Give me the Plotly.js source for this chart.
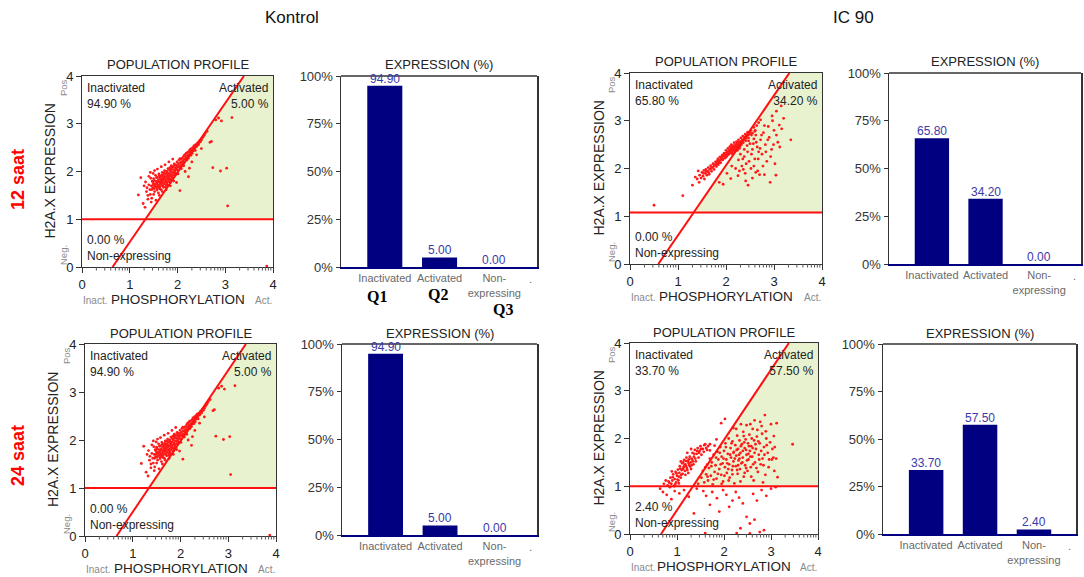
<!DOCTYPE html>
<html>
<head>
<meta charset="utf-8">
<script src="https://cdn.plot.ly/plotly-3.0.1.min.js"></script>
<style>
  html, body { margin: 0; padding: 0; background: #ffffff; }
  #chart { width: 1084px; height: 577px; }
</style>
</head>
<body>
<div id="chart"></div>
<script>
// ---- Expression percentages per gate (Inactivated, Activated, Non-expressing) ----
const categories = ['Inactivated', 'Activated', 'Non-expressing'];
const categoryTicks = ['Inactivated', 'Activated', 'Non-<br>expressing'];
const kontrol12 = [94.90, 5.00, 0.00];
const ic90_12 = [65.80, 34.20, 0.00];
const kontrol24 = [94.90, 5.00, 0.00];
const ic90_24 = [33.70, 57.50, 2.40];
const percentTicks = [0, 25, 50, 75, 100];
const percentLabels = ['0%', '25%', '50%', '75%', '100%'];

// ---- Column / row headings ----
const columnTitles = ['Kontrol', 'IC 90'];
const rowTitles = ['12 saat', '24 saat'];
const quadrantTags = ['Q1', 'Q2', 'Q3'];

// ---- Gate geometry: horizontal threshold and diagonal (x at y=0, x at y=4) ----
const gateK12 = { h: 1.00, x0: 0.64, x1: 3.39 };
const gateI12 = { h: 1.08, x0: 0.59, x1: 3.32 };
const gateK24 = { h: 1.00, x0: 0.66, x1: 3.37 };
const gateI24 = { h: 1.00, x0: 0.66, x1: 3.38 };

// ---- Events (phosphorylation, H2A.X expression) ----
const kontrolEvents = [
  [1.42,1.62],[1.45,1.70],[1.47,1.80],[1.48,1.66],[1.50,1.75],[1.50,1.85],[1.52,1.58],[1.53,1.72],
  [1.54,1.92],[1.55,1.80],[1.56,1.68],[1.57,1.76],[1.58,1.88],[1.58,1.64],[1.60,1.82],[1.60,1.72],
  [1.61,1.95],[1.62,1.78],[1.63,1.86],[1.63,1.68],[1.64,1.74],[1.65,1.90],[1.66,1.80],[1.66,1.62],
  [1.67,1.84],[1.68,1.76],[1.68,1.98],[1.69,1.70],[1.70,1.88],[1.70,1.80],[1.71,1.92],[1.72,1.74],
  [1.73,1.84],[1.73,2.02],[1.74,1.78],[1.75,1.95],[1.75,1.68],[1.76,1.88],[1.77,1.82],[1.78,2.00],
  [1.78,1.75],[1.79,1.92],[1.80,1.86],[1.80,2.06],[1.81,1.79],[1.82,1.96],[1.83,1.90],[1.84,2.08],
  [1.84,1.84],[1.85,2.00],[1.86,1.94],[1.87,2.12],[1.88,1.88],[1.88,2.04],[1.89,1.98],[1.90,2.10],
  [1.91,1.92],[1.92,2.04],[1.93,2.16],[1.94,2.00],[1.95,2.08],[1.96,1.96],[1.97,2.14],[1.98,2.06],
  [1.99,2.20],[2.00,2.10],[2.01,2.02],[2.02,2.16],[2.03,2.24],[2.04,2.08],[2.05,2.18],[2.06,2.12],
  [2.07,2.26],[2.08,2.20],[2.09,2.14],[2.10,2.28],[2.11,2.22],[2.12,2.16],[2.13,2.32],[2.14,2.26],
  [2.15,2.20],[2.16,2.34],[2.17,2.28],[2.18,2.38],[2.19,2.30],[2.20,2.24],[2.21,2.40],[2.22,2.34],
  [2.23,2.28],[2.24,2.42],[2.25,2.36],[2.26,2.46],[2.27,2.40],[2.28,2.34],[2.29,2.48],[2.30,2.42],
  [2.32,2.50],[2.33,2.44],[2.35,2.54],[2.36,2.48],[2.38,2.56],[2.40,2.52],[2.42,2.60],[2.44,2.56],
  [2.46,2.64],[2.48,2.62],[2.52,2.70],[2.56,2.76],
  [1.46,1.62],[1.49,1.71],[1.51,1.81],[1.53,1.67],[1.56,1.87],[1.57,1.61],[1.59,1.79],[1.61,1.69],
  [1.62,1.91],[1.64,1.63],[1.65,1.77],[1.67,1.71],[1.67,1.93],[1.69,1.83],[1.71,1.67],[1.72,1.97],
  [1.74,1.89],[1.76,1.79],[1.77,1.99],[1.79,1.71],[1.80,1.95],[1.82,1.83],[1.83,2.03],[1.85,1.77],
  [1.86,2.07],[1.87,1.91],[1.89,2.09],[1.90,1.85],[1.92,1.97],[1.94,2.13],[1.95,1.93],[1.97,2.03],
  [1.99,2.12],[2.01,1.95],[2.03,2.10],[2.05,2.27],[2.08,2.06],[2.10,2.19],[2.13,2.12],[2.15,2.35],
  [2.18,2.24],[2.21,2.31],[2.24,2.33],[2.28,2.44],[2.31,2.38],[2.34,2.52],[2.37,2.44],[2.41,2.55],
  [2.45,2.60],[2.50,2.66],[2.54,2.73],[2.58,2.80],[2.62,2.84],
  [1.40,1.90],[1.43,1.98],[1.52,2.02],[1.58,2.05],[1.66,2.10],[1.74,2.14],[1.82,2.20],[1.90,2.26],
  [1.38,1.42],[1.45,1.36],[1.60,1.55],[1.68,1.58],[1.76,1.62],[1.33,1.78],[1.50,1.52],[1.85,1.70],
  [1.92,1.80],
  [1.35,1.58],[1.38,1.50],[1.40,1.72],[1.43,1.52],[1.44,1.86],[1.46,1.44],[1.36,1.66],[1.49,1.96],
  [1.30,1.70],[1.51,1.64],[1.59,1.70],[1.65,1.84],[1.69,1.90],[1.72,1.86],[1.76,1.72],[1.81,1.88],
  [1.86,1.82],[1.62,1.66],[1.55,1.74],[1.48,1.78],
  [1.23,1.87],[1.18,1.51],[1.28,1.33],[1.32,1.25],[1.55,1.40],[1.62,1.50],
  [2.16,2.00],[2.25,2.07],[2.23,1.89],[1.98,1.77],[2.05,1.60],[2.30,2.20],[2.40,2.35],[2.50,2.48],
  [2.68,2.61],[2.71,2.63],[2.74,2.08],[2.90,2.01],[3.03,2.07],[3.05,1.28],[3.14,3.13],[2.80,3.08],
  [2.86,3.12],[2.92,3.06],[3.87,0.02]
];

const ic90Events12 = [
  [1.45,1.86],[1.48,1.80],[1.50,1.92],[1.52,1.84],[1.54,1.96],[1.55,1.78],[1.57,1.90],[1.58,1.98],
  [1.60,1.86],[1.62,1.94],[1.63,2.02],[1.65,1.88],[1.66,1.98],[1.68,2.06],[1.70,1.94],[1.71,2.02],
  [1.73,2.10],[1.75,1.98],[1.76,2.08],[1.78,2.14],[1.80,2.04],[1.81,2.12],[1.83,2.20],[1.84,2.08],
  [1.86,2.16],[1.87,2.24],[1.89,2.12],[1.90,2.20],[1.92,2.28],[1.93,2.18],[1.95,2.26],[1.96,2.32],
  [1.98,2.22],[1.99,2.30],[2.00,2.38],[2.02,2.26],[2.03,2.34],[2.04,2.42],[2.06,2.30],[2.07,2.38],
  [2.08,2.46],[2.09,2.34],[2.10,2.42],[2.11,2.50],[2.12,2.36],[2.13,2.44],[2.14,2.30],[2.15,2.48],
  [2.16,2.40],[2.17,2.54],[2.18,2.44],[2.19,2.36],[2.20,2.50],[2.21,2.42],[2.22,2.56],[2.23,2.46],
  [2.24,2.38],[2.25,2.52],[2.26,2.60],[2.27,2.48],[2.28,2.42],[2.30,2.56],[2.31,2.64],[2.32,2.50],
  [2.34,2.60],[2.35,2.68],[2.36,2.54],[2.38,2.64],[2.40,2.72],[2.41,2.58],[2.43,2.68],[2.45,2.76],
  [2.47,2.64],[2.49,2.72],[2.52,2.80],[2.55,2.74],[2.58,2.86],[2.61,2.80],[2.64,2.90],[2.68,2.96],
  [2.72,3.02],[2.05,2.34],[2.11,2.40],[2.16,2.46],[2.21,2.48],[2.14,2.38],[2.19,2.44],[2.24,2.50],
  [1.88,2.18],[1.91,2.24],[1.94,2.20],[1.97,2.28],[2.00,2.24],[2.01,2.33],[2.04,2.29],[2.06,2.37],
  [2.08,2.32],[2.10,2.39],[2.12,2.45],[2.13,2.33],[2.15,2.41],[2.17,2.47],[2.18,2.37],[2.20,2.45],
  [2.22,2.40],[2.23,2.52],[2.25,2.44],[2.27,2.55],[2.29,2.46],[2.31,2.52],[2.33,2.58],[2.37,2.60],
  [2.39,2.66],[2.42,2.63],[2.46,2.70],[2.50,2.76],[2.53,2.70],[1.53,1.90],[1.59,1.94],[1.64,1.91],
  [1.69,2.00],[1.74,2.04],[1.79,2.08],[1.82,2.16],[1.85,2.12],
  [1.30,1.65],[1.10,1.43],[0.50,1.23],[1.44,1.71],[1.40,1.78],[1.42,1.95],[1.36,1.82],
  [2.10,1.79],[1.94,1.67],[1.86,1.71],[2.02,1.90],[2.12,2.05],[2.20,2.00],[2.26,2.18],[2.30,2.30],
  [2.35,2.20],[2.38,2.40],[2.42,2.10],[2.45,2.35],[2.46,1.65],[2.41,1.74],[2.50,2.52],[2.52,2.00],
  [2.55,2.40],[2.58,2.62],[2.60,2.20],[2.62,2.70],[2.65,2.45],[2.66,1.95],[2.70,1.87],[2.72,2.60],
  [2.75,2.30],[2.78,2.75],[2.80,1.87],[2.82,2.50],[2.85,2.15],[2.88,2.88],[2.90,2.65],[2.92,1.71],
  [2.95,2.40],[2.97,3.00],[3.00,2.80],[3.02,2.10],[3.04,1.86],[3.08,2.55],[3.11,2.91],[3.15,3.31],
  [3.16,2.83],[3.20,3.05],[3.35,2.60],[2.33,2.05],[2.57,2.52],[2.68,2.35],[2.44,2.48],[2.36,1.98],
  [2.62,1.92],[2.25,1.85],[2.38,2.25],[2.48,2.15],[2.53,2.30],[2.58,2.05],[2.63,2.55],[2.67,2.20],
  [2.71,2.42],[2.74,2.70],[2.77,2.05],[2.83,2.35],[2.87,2.60],[2.93,2.25],[2.99,2.50],[3.05,2.70],
  [3.12,2.45],[2.40,1.90],[2.55,1.80],[2.28,1.95],[2.47,2.58],[2.60,2.78],[2.80,2.90],[2.96,3.10],
  [3.05,3.20]
];

const ic90Events24 = [
  [0.80,1.02],[0.82,1.10],[0.85,0.98],[0.86,1.18],[0.88,1.05],[0.90,1.12],[0.92,1.25],[0.94,1.00],
  [0.95,1.15],[0.97,1.30],[0.98,1.08],[1.00,1.22],[1.02,1.35],[1.03,1.12],[1.05,1.28],[1.06,1.42],
  [1.08,1.18],[1.10,1.34],[1.11,1.48],[1.12,1.26],[1.14,1.40],[1.15,1.55],[1.17,1.32],[1.18,1.46],
  [1.20,1.60],[1.21,1.38],[1.23,1.52],[1.24,1.28],[1.26,1.44],[1.27,1.62],[1.29,1.50],[1.30,1.36],
  [1.32,1.56],[1.33,1.70],[1.35,1.46],[1.36,1.62],[1.38,1.76],[1.40,1.52],[1.42,1.68],[1.44,1.80],
  [1.46,1.60],[1.48,1.74],[1.50,1.84],[1.52,1.66],[1.55,1.78],[1.58,1.86],[1.62,1.80],[1.66,1.84],
  [1.70,1.88],[0.72,1.05],[1.13,1.50],[1.19,1.42],[1.25,1.56],[1.31,1.44],[1.04,1.20],
  [0.84,1.07],[0.91,1.19],[0.96,1.04],[0.99,1.27],[1.01,1.14],[1.07,1.37],[1.09,1.24],[1.13,1.36],
  [1.16,1.44],[1.19,1.53],[1.22,1.34],[1.25,1.48],[1.28,1.41],[1.31,1.58],[1.34,1.52],[1.37,1.68],
  [1.39,1.58],[1.43,1.74],[1.47,1.70],[1.51,1.78],[1.57,1.72],[1.60,1.88],[1.64,1.76],[0.76,1.12],
  [0.89,1.31],[1.08,1.52],[1.22,1.70],[1.30,1.78],[1.18,1.24],[1.04,1.06],
  [1.45,1.05],[1.52,1.18],[1.55,1.32],[1.58,1.08],[1.62,1.25],[1.64,1.45],[1.66,1.12],[1.68,1.38],
  [1.70,1.58],[1.72,1.22],[1.74,1.50],[1.76,1.04],[1.78,1.66],[1.80,1.30],[1.82,1.44],[1.84,1.16],
  [1.86,1.72],[1.88,1.56],[1.90,1.36],[1.92,1.82],[1.94,1.24],[1.95,1.62],[1.97,1.48],[1.98,1.10],
  [2.00,1.74],[2.02,1.40],[2.03,1.90],[2.05,1.56],[2.06,1.28],[2.08,1.68],[2.10,2.00],[2.11,1.46],
  [2.12,1.18],[2.14,1.80],[2.15,1.60],[2.17,1.34],[2.18,1.94],[2.20,1.52],[2.21,1.72],[2.22,1.06],
  [2.24,1.86],[2.25,1.42],[2.26,1.64],[2.28,2.06],[2.29,1.26],[2.30,1.78],[2.31,1.54],[2.33,1.96],
  [2.34,1.36],[2.35,1.70],[2.37,1.48],[2.38,1.88],[2.40,1.60],[2.41,2.14],[2.42,1.20],[2.44,1.80],
  [2.45,1.44],[2.46,1.98],[2.48,1.66],[2.50,1.32],[2.51,1.90],[2.52,1.56],[2.54,2.08],[2.55,1.74],
  [2.57,1.40],[2.58,1.84],[2.60,1.62],[2.61,2.20],[2.63,1.12],[2.64,1.96],[2.66,1.50],[2.68,1.78],
  [2.70,2.04],[2.72,1.30],[2.74,1.66],[2.76,1.90],[2.78,1.46],[2.80,2.26],[2.82,1.58],[2.85,1.82],
  [2.87,2.49],[2.88,1.24],[2.90,2.00],[2.93,1.70],[2.95,1.40],[2.98,1.92],[3.00,2.30],[3.02,1.56],
  [3.05,1.60],[3.08,1.82],[3.11,1.58],[3.12,2.32],[3.14,1.19],[3.10,0.98],[3.46,1.88],[2.77,2.35],
  [2.02,2.41],[1.94,2.32],[2.20,2.22],[2.48,2.28],[2.65,2.38],[1.84,1.98],[2.36,2.30],
  [1.60,1.40],[1.65,1.20],[1.73,1.42],[1.78,1.14],[1.83,1.60],[1.87,1.26],[1.91,1.70],[1.93,1.46],
  [1.99,1.58],[2.01,1.22],[2.04,1.82],[2.07,1.48],[2.09,1.36],[2.13,1.66],[2.16,1.90],[2.19,1.42],
  [2.23,1.58],[2.27,1.76],[2.28,1.34],[2.32,1.66],[2.36,1.84],[2.39,1.50],[2.43,1.92],[2.44,1.28],
  [2.47,1.76],[2.49,1.54],[2.53,1.84],[2.56,1.62],[2.59,2.00],[2.62,1.46],[2.65,1.70],[2.67,1.88],
  [2.69,1.38],[2.73,1.94],[2.75,1.56],[2.79,1.74],[2.81,2.10],[2.84,1.44],[2.86,1.66],[2.91,1.86],
  [2.96,1.56],[3.03,1.78],[3.07,1.32],[2.26,2.20],[2.42,2.05],[2.56,2.30],[2.71,2.18],[2.89,2.15],
  [3.06,2.05],[2.10,1.12],[2.35,1.10],[2.58,1.20],[2.83,1.08],[1.95,1.05],[2.18,1.25],[2.30,1.44],
  [2.47,1.38],[2.20,1.70],[2.33,1.58],[2.40,1.74],[2.52,1.68],[2.61,1.80],[1.80,1.85],[1.70,1.75],
  [0.64,0.95],[0.70,0.88],[0.78,0.82],[0.88,0.73],[0.95,0.90],[1.05,0.85],[1.15,0.92],[1.25,0.78],
  [1.36,0.43],[1.42,0.95],[1.56,0.90],[1.62,0.80],[1.70,0.61],[1.75,0.88],[1.85,0.75],[1.90,0.47],
  [1.98,0.92],[2.05,0.82],[2.11,0.57],[2.18,0.70],[2.25,0.88],[2.32,0.76],[2.40,0.64],[2.48,0.36],
  [2.55,0.22],[2.35,0.12],[2.62,0.84],[2.70,0.70],[2.80,0.92],[2.90,0.80],[3.00,0.95],[1.60,0.02],
  [2.27,0.02],[2.55,0.01],[2.76,0.04],[2.85,0.08],[2.65,0.30]
];

// ---- Page geometry (pixels) ----
const W = 1084, H = 577;
const FONT = 'Liberation Sans, Arial, sans-serif';
const px = x => x / W;
const py = y => 1 - y / H;

const traces = [];
const shapes = [];
const annotations = [];
const layout = {
  width: W, height: H,
  margin: { l: 0, r: 0, t: 0, b: 0 },
  paper_bgcolor: '#ffffff', plot_bgcolor: '#ffffff',
  font: { family: FONT, color: '#222' },
  showlegend: false,
  shapes: shapes, annotations: annotations
};

// minor tick positions: log steps 2..9 inside each decade of the 0-4 scale
const minorVals = [];
for (let d = 0; d < 4; d++) for (let m = 2; m <= 9; m++) minorVals.push(d + Math.log10(m));

function txt(x, y, text, opts) {
  annotations.push(Object.assign({
    xref: 'paper', yref: 'paper', x: px(x), y: py(y), text: text,
    showarrow: false, xanchor: 'center', yanchor: 'middle',
    font: { family: FONT, size: 12, color: '#222' }
  }, opts || {}));
}

function axisId(n) { return n === 1 ? '' : String(n); }

function profilePanel(n, box, events, gate, vals) {
  const [L, T, R, B] = box;
  const id = axisId(n);
  traces.push({
    type: 'scatter', mode: 'markers',
    x: events.map(p => p[0]), y: events.map(p => p[1]),
    xaxis: 'x' + id, yaxis: 'y' + id,
    marker: { color: '#ff1a1a', size: 2.8, line: { width: 0 } },
    hoverinfo: 'skip'
  });
  const common = {
    range: [0, 4], tickvals: [0, 1, 2, 3, 4], ticks: 'outside', ticklen: 5,
    tickcolor: '#333', showline: true, mirror: true, linecolor: '#333', linewidth: 1,
    showgrid: false, zeroline: false, fixedrange: true,
    tickfont: { family: FONT, size: 13, color: '#222' }
  };
  layout['xaxis' + id] = Object.assign({}, common, {
    domain: [px(L), px(R)], anchor: 'y' + id
  });
  layout['yaxis' + id] = Object.assign({}, common, {
    domain: [py(B), py(T)], anchor: 'x' + id
  });
  // small log ticks under the phosphorylation axis (placed on the page, below the frame)
  minorVals.forEach(v => {
    const xp = px(L + v * (R - L) / 4);
    shapes.push({
      type: 'line', xref: 'paper', yref: 'paper', x0: xp, x1: xp,
      y0: py(B), y1: py(B + 3.5), line: { color: '#555', width: 1 }
    });
  });
  const xh = gate.x0 + gate.h * (gate.x1 - gate.x0) / 4;
  shapes.push({
    type: 'path', xref: 'x' + id, yref: 'y' + id, layer: 'below',
    path: `M ${xh},${gate.h} L ${gate.x1},4 L 4,4 L 4,${gate.h} Z`,
    fillcolor: 'rgb(232,242,206)', line: { width: 0 }
  });
  shapes.push({
    type: 'line', xref: 'x' + id, yref: 'y' + id, layer: 'above',
    x0: 0, x1: 4, y0: gate.h, y1: gate.h, line: { color: '#ff1010', width: 2 }
  });
  shapes.push({
    type: 'line', xref: 'x' + id, yref: 'y' + id, layer: 'above',
    x0: gate.x0, y0: 0, x1: gate.x1, y1: 4, line: { color: '#ff1010', width: 2 }
  });
  // panel texts
  txt((L + R) / 2, T - 11, 'POPULATION PROFILE', { font: { family: FONT, size: 13, color: '#222' } });
  txt(L - 32, (T + B) / 2, 'H2A.X EXPRESSION', { textangle: -90, font: { family: FONT, size: 14, color: '#222' } });
  txt((L + R) / 2, B + 32, 'PHOSPHORYLATION', { font: { family: FONT, size: 13.5, color: '#222' } });
  txt(L - 1, B + 33, 'Inact.', { xanchor: 'left', font: { family: FONT, size: 10, color: '#8a8a8a' } });
  txt(R + 1, B + 33, 'Act.', { xanchor: 'right', font: { family: FONT, size: 10, color: '#8a8a8a' } });
  txt(L - 19, T + 11, 'Pos.', { textangle: -90, font: { family: FONT, size: 9.5, color: '#8a8a8a' } });
  txt(L - 19, B - 12, 'Neg.', { textangle: -90, font: { family: FONT, size: 9.5, color: '#8a8a8a' } });
  const f12 = { family: FONT, size: 12, color: '#222' };
  txt(L + 3, T + 3, `${categories[0]}<br>${vals[0].toFixed(2)} %`, { xanchor: 'left', yanchor: 'top', align: 'left', font: f12 });
  txt(R - 2, T + 3, `${categories[1]}<br>${vals[1].toFixed(2)} %`, { xanchor: 'right', yanchor: 'top', align: 'right', font: f12 });
  txt(L + 3, B - 2, `${vals[2].toFixed(2)} %<br>${categories[2]}`, { xanchor: 'left', yanchor: 'bottom', align: 'left', font: f12 });
}

function expressionPanel(n, box, vals) {
  const [L, T, R, B] = box;
  const id = axisId(n);
  traces.push({
    type: 'bar', x: [0, 1, 2], y: vals, width: 0.64,
    xaxis: 'x' + id, yaxis: 'y' + id,
    marker: { color: '#000080', line: { width: 0 } },
    hoverinfo: 'skip'
  });
  vals.forEach((v, i) => {
    annotations.push({
      xref: 'x' + id, yref: 'y' + id, x: i, y: v, text: v.toFixed(2),
      showarrow: false, xanchor: 'center', yanchor: 'middle', yshift: 7,
      font: { family: FONT, size: 12, color: '#3a3aa8' }
    });
  });
  layout['xaxis' + id] = {
    domain: [px(L), px(R)], anchor: 'y' + id, range: [-0.8, 2.78],
    tickvals: [0, 1, 2], ticktext: categoryTicks, ticks: '',
    tickfont: { family: FONT, size: 11, color: '#6a6a6a' },
    showline: true, linecolor: '#000080', linewidth: 2,
    showgrid: false, zeroline: false, fixedrange: true
  };
  layout['yaxis' + id] = {
    domain: [py(B), py(T)], anchor: 'x' + id, range: [0, 100],
    tickvals: percentTicks, ticktext: percentLabels, ticks: 'outside', ticklen: 4,
    tickcolor: '#333', showline: true, mirror: true, linecolor: '#333', linewidth: 1.5,
    tickfont: { family: FONT, size: 13, color: '#333' },
    showgrid: false, zeroline: false, fixedrange: true
  };
  shapes.push({
    type: 'line', xref: 'x' + id + ' domain', yref: 'y' + id + ' domain',
    x0: 0, x1: 1, y0: 1, y1: 1, line: { color: '#333', width: 1.5 }
  });
  txt((L + R) / 2, T - 11, 'EXPRESSION (%)', { font: { family: FONT, size: 13, color: '#222' } });
  txt(R - 7, B + 12, '.', { font: { family: FONT, size: 11, color: '#6a6a6a' } });
}

profilePanel(1, [82, 76, 273, 267], kontrolEvents, gateK12, kontrol12);
expressionPanel(2, [341, 76, 537, 267], kontrol12);
profilePanel(3, [630, 73, 822, 264], ic90Events12, gateI12, ic90_12);
expressionPanel(4, [889, 73, 1081, 264], ic90_12);
profilePanel(5, [85, 344, 276, 536], kontrolEvents, gateK24, kontrol24);
expressionPanel(6, [342, 344, 537, 535], kontrol24);
profilePanel(7, [630, 343, 818, 534], ic90Events24, gateI24, ic90_24);
expressionPanel(8, [883, 344, 1076, 534], ic90_24);

// headings
txt(292, 18, columnTitles[0], { font: { family: FONT, size: 17, color: '#111' } });
txt(853, 18, columnTitles[1], { font: { family: FONT, size: 17, color: '#111' } });
txt(18, 180, rowTitles[0], { textangle: -90, font: { family: FONT, size: 18, color: '#ff0000', weight: 'bold' } });
txt(18, 456, rowTitles[1], { textangle: -90, font: { family: FONT, size: 18, color: '#ff0000', weight: 'bold' } });

// quadrant tags under the first expression chart
const SERIF = 'Liberation Serif, Times New Roman, serif';
txt(377, 296, quadrantTags[0], { font: { family: SERIF, size: 16, color: '#000', weight: 'bold' } });
txt(438, 294, quadrantTags[1], { font: { family: SERIF, size: 16, color: '#000', weight: 'bold' } });
txt(503, 309, quadrantTags[2], { font: { family: SERIF, size: 16, color: '#000', weight: 'bold' } });

Plotly.newPlot('chart', traces, layout, { staticPlot: true, displayModeBar: false });
</script>
</body>
</html>
